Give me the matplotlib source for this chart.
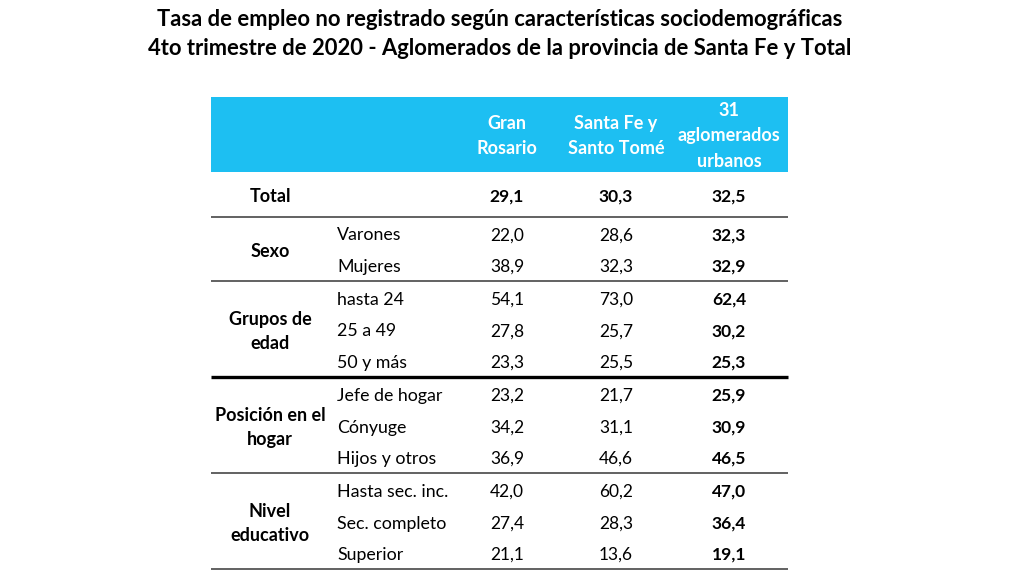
"""Tasa de empleo no registrado - 4to trimestre 2020, tabla Santa Fe."""
import matplotlib.pyplot as plt
from matplotlib.patches import Rectangle

plt.rcParams['font.family'] = ['Lato', 'DejaVu Sans']

TITLE = ("Tasa de empleo no registrado según características sociodemográficas\n"
         "4to trimestre de 2020 - Aglomerados de la provincia de Santa Fe y Total")

COLUMNS = ["Gran\nRosario", "Santa Fe y\nSanto Tomé", "31\naglomerados\nurbanos"]

GROUPS = ["Total", "Sexo", "Grupos de\nedad", "Posición en el\nhogar",
          "Nivel\neducativo"]
SUBLABELS = [
    [""],
    ["Varones", "Mujeres"],
    ["hasta 24", "25 a 49", "50 y más"],
    ["Jefe de hogar", "Cónyuge", "Hijos y otros"],
    ["Hasta sec. inc.", "Sec. completo", "Superior"],
]
gran_rosario = [[29.1], [22.0, 38.9], [54.1, 27.8, 23.3],
                [23.2, 34.2, 36.9], [42.0, 27.4, 21.1]]
santa_fe = [[30.3], [28.6, 32.3], [73.0, 25.7, 25.5],
            [21.7, 31.1, 46.6], [60.2, 28.3, 13.6]]
total_31 = [[32.5], [32.3, 32.9], [62.4, 30.2, 25.3],
            [25.9, 30.9, 46.5], [47.0, 36.4, 19.1]]

HEADER_BLUE = '#1DBFF2'
LEFT, RIGHT = 211, 788
GROUP_X, SUB_X = 270, 337
COL_X = [507, 616, 729]
ROW_H = 31.5


def fmt(v):
    return f"{v:.1f}".replace('.', ',')


fig = plt.figure(figsize=(10.24, 5.76), dpi=100)
ax = fig.add_axes([0, 0, 1, 1])
ax.set_xlim(0, 1024)
ax.set_ylim(576, 0)
ax.axis('off')

ax.text(500, 34, TITLE, ha='center', va='center', fontsize=15.8,
        fontweight='bold', linespacing=1.5)

# header band
ax.add_patch(Rectangle((LEFT, 97), RIGHT - LEFT, 75, color=HEADER_BLUE, lw=0))
for x, lab in zip(COL_X, COLUMNS):
    ax.text(x, 136, lab, ha='center', va='center', color='white',
            fontsize=13, fontweight='bold', linespacing=1.62)

y = 197
for g, (grp, subs) in enumerate(zip(GROUPS, SUBLABELS)):
    n = len(subs)
    ys = [y + i * ROW_H for i in range(n)]
    mid = (ys[0] + ys[-1]) / 2
    ax.text(GROUP_X, mid, grp, ha='center', va='center',
            fontsize=13, fontweight='bold', linespacing=1.55)
    for i, yy in enumerate(ys):
        if subs[i]:
            ax.text(SUB_X, yy, subs[i], ha='left', va='center', fontsize=12.8)
        bold_row = 'bold' if g == 0 else 'normal'
        ax.text(COL_X[0], yy, fmt(gran_rosario[g][i]), ha='center',
                va='center', fontsize=12.5, fontweight=bold_row)
        ax.text(COL_X[1], yy, fmt(santa_fe[g][i]), ha='center', va='center',
                fontsize=12.5, fontweight=bold_row)
        ax.text(COL_X[2], yy, fmt(total_31[g][i]), ha='center',
                va='center', fontsize=12.5, fontweight='bold')
    line_y = ys[-1] + (19.5 if g == 0 else 14)
    thick = g == 2
    ax.plot([LEFT, RIGHT], [line_y, line_y],
            color='black' if thick else '#555555',
            lw=2.4 if thick else 1.3, solid_capstyle='butt')
    y = line_y + 19

fig.savefig('out.png', dpi=100)
